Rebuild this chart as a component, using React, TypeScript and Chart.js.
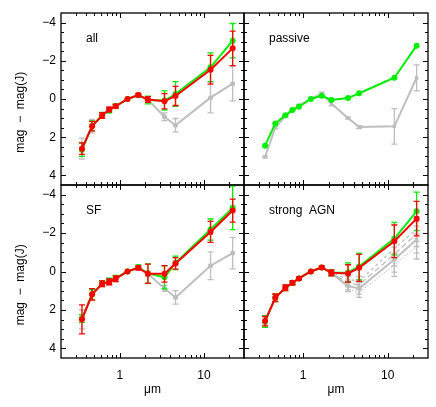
import React, { useEffect, useRef } from 'react';
import { Chart, registerables } from 'chart.js';

Chart.register(...registerables);

// ---------- data ----------
const wavelengths = [0.355, 0.469, 0.617, 0.748, 0.893, 1.235, 1.662, 2.159, 3.4, 4.6, 12, 22];
const xTickValues = [1, 10];
const yTickValues = [-4, -2, 0, 2, 4];
const panelLabels = ['all', 'passive', 'SF', 'strong  AGN'];

// "all"
const allRed = [2.6, 1.42, 0.86, 0.55, 0.38, 0, -0.21, 0.03, 0.12, -0.16, -1.53, -2.65];
const allRedErr = [0.3, 0.25, 0.15, 0.12, 0.1, 0, 0.08, 0.15, 0.4, 0.5, 0.75, 0.9];
const allGreen = [2.65, 1.4, 0.85, 0.6, 0.37, 0, -0.2, 0.05, 0.08, -0.26, -1.66, -3.05];
const allGreenErr = [0.35, 0.25, 0.15, 0.12, 0.1, 0, 0.08, 0.2, 0.5, 0.65, 0.75, 0.9];
const allGray = [2.6, 1.42, 0.86, 0.55, 0.38, 0, -0.21, 0.03, 0.93, 1.37, -0.07, -0.8];
const allGrayErr = [0.55, 0.35, 0.15, 0.12, 0.1, 0, 0.08, 0.15, 0.2, 0.35, 0.8, 0.9];

// "passive"
const pasGreen = [2.44, 1.28, 0.85, 0.57, 0.41, 0, -0.17, 0.05, -0.05, -0.3, -1.11, -2.79];
const pasGray = [3.03, 1.5, 0.9, 0.58, 0.33, 0, -0.28, 0.24, 1.0, 1.47, 1.43, -1.11];
const pasGrayErr = [0.05, 0.05, 0.05, 0.05, 0.05, 0, 0.08, 0.12, 0.05, 0.08, 0.93, 0.68];

// "SF"
const sfRed = [2.49, 1.19, 0.64, 0.54, 0.38, 0, -0.19, 0.12, 0.12, -0.42, -2.06, -3.17];
const sfRedErr = [0.75, 0.3, 0.15, 0.15, 0.15, 0, 0.1, 0.5, 0.43, 0.3, 0.55, 0.6];
const sfGreen = [2.45, 1.2, 0.62, 0.5, 0.35, 0, -0.22, 0.1, 0.3, -0.45, -2.18, -3.31];
const sfGreenErr = [0.2, 0.25, 0.15, 0.15, 0.15, 0, 0.12, 0.5, 0.6, 0.35, 0.55, 1.13];
const sfGray = [2.49, 1.19, 0.64, 0.54, 0.38, 0, -0.19, 0.12, 0.88, 1.35, -0.3, -0.96];
const sfGrayErr = [0.5, 0.3, 0.15, 0.15, 0.15, 0, 0.1, 0.15, 0.15, 0.35, 0.72, 0.82];

// "strong AGN"
const agnRed = [2.58, 1.37, 0.85, 0.59, 0.36, 0, -0.21, 0.07, 0.1, -0.19, -1.57, -2.75];
const agnRedErr = [0.25, 0.2, 0.15, 0.1, 0.07, 0, 0.07, 0.15, 0.45, 0.7, 0.85, 0.9];
const agnGreen = [2.6, 1.37, 0.85, 0.59, 0.36, 0, -0.21, 0.07, 0.05, -0.26, -1.71, -3.13];
const agnGreenErr = [0.3, 0.2, 0.15, 0.1, 0.07, 0, 0.07, 0.15, 0.5, 0.7, 0.85, 1.0];
const agnGray = [2.58, 1.37, 0.85, 0.59, 0.36, 0, -0.21, 0.07, 0.76, 0.88, -0.62, -1.66];
const agnGrayErr = [0.2, 0.15, 0.1, 0.1, 0.07, 0, 0.07, 0.12, 0.2, 0.3, 0.65, 0.7];
const agnGrayDash = [2.58, 1.37, 0.85, 0.59, 0.36, 0, -0.21, 0.07, 0.4, 0.5, -1.2, -2.2];
const agnGrayDashErr = [0, 0, 0, 0, 0, 0, 0, 0.1, 0.15, 0.25, 0.6, 0.65];
const agnGrayLongDash = [2.58, 1.37, 0.85, 0.59, 0.36, 0, -0.21, 0.07, 0.6, 0.7, -0.9, -1.95];
const agnGrayLongDashErr = [0, 0, 0, 0, 0, 0, 0, 0.1, 0.15, 0.25, 0.6, 0.65];
const agnGrayDot = [2.58, 1.37, 0.85, 0.59, 0.36, 0, -0.21, 0.07, 0.9, 1.1, -0.35, -1.3];
const agnGrayDotErr = [0, 0, 0, 0, 0, 0, 0, 0.1, 0.15, 0.25, 0.6, 0.65];

// ---------- styles ----------
const RED = '#ff0000';
const GREEN = '#00ee00';
const GRAY = '#bebebe';
const FONT = "'Liberation Sans', Arial, Helvetica, sans-serif";

type SeriesSpec = {
  values: number[];
  errors?: number[];
  color: string;
  dash?: number[];
  width?: number;
  radius?: number;
  marker?: string;
};

function makeDataset(s: SeriesSpec): any {
  return {
    data: wavelengths.map((x, i) => ({ x, y: s.values[i] })),
    errors: s.errors,
    borderColor: s.color,
    backgroundColor: s.color,
    borderWidth: s.width ?? 2,
    borderDash: s.dash ?? [],
    pointRadius: s.radius ?? 3,
    pointStyle: s.marker ?? 'circle',
    pointBorderWidth: 0,
    pointHoverRadius: 0,
    showLine: true,
    tension: 0,
  };
}

const errorBarPlugin = {
  id: 'errorBars',
  afterDatasetDraw(chart: any, args: any) {
    const ds = chart.data.datasets[args.index];
    if (!ds.errors) return;
    const { ctx, chartArea: a } = chart;
    const xs = chart.scales.x;
    const ys = chart.scales.y;
    ctx.save();
    ctx.beginPath();
    ctx.rect(a.left, a.top, a.right - a.left, a.bottom - a.top);
    ctx.clip();
    ctx.strokeStyle = ds.borderColor;
    ctx.lineWidth = 1.3;
    ctx.setLineDash([]);
    ds.data.forEach((p: any, i: number) => {
      const e = ds.errors[i];
      if (!e) return;
      const px = xs.getPixelForValue(p.x);
      const y1 = ys.getPixelForValue(p.y - e);
      const y2 = ys.getPixelForValue(p.y + e);
      ctx.beginPath();
      ctx.moveTo(px, y1);
      ctx.lineTo(px, y2);
      ctx.moveTo(px - 3, y1);
      ctx.lineTo(px + 3, y1);
      ctx.moveTo(px - 3, y2);
      ctx.lineTo(px + 3, y2);
      ctx.stroke();
    });
    ctx.restore();
  },
};

function makeFramePlugin(label: string) {
  return {
    id: 'frame',
    afterDraw(chart: any) {
      const { ctx, chartArea: a } = chart;
      const xs = chart.scales.x;
      const ys = chart.scales.y;
      ctx.save();
      ctx.strokeStyle = '#000';
      ctx.lineWidth = 1.3;
      ctx.setLineDash([]);
      ctx.strokeRect(a.left, a.top, a.right - a.left, a.bottom - a.top);
      ctx.lineWidth = 1;
      const line = (x1: number, y1: number, x2: number, y2: number) => {
        ctx.beginPath();
        ctx.moveTo(x1, y1);
        ctx.lineTo(x2, y2);
        ctx.stroke();
      };
      const tickX = (v: number, len: number) => {
        const px = Math.round(xs.getPixelForValue(v)) + 0.5;
        line(px, a.bottom, px, a.bottom - len);
        line(px, a.top, px, a.top + len);
      };
      const tickY = (v: number, len: number) => {
        const py = Math.round(ys.getPixelForValue(v)) + 0.5;
        line(a.left, py, a.left + len, py);
        line(a.right, py, a.right - len, py);
      };
      for (const d of [0.1, 1, 10]) {
        for (let k = 1; k <= 9; k++) {
          const v = k * d;
          if (v <= xs.min || v >= xs.max) continue;
          tickX(v, xTickValues.includes(v) ? 5 : 3);
        }
      }
      for (let v = -4.5; v <= 4.5; v += 0.5) {
        if (v <= ys.min || v >= ys.max) continue;
        tickY(v, yTickValues.includes(v) ? 5 : 3);
      }
      ctx.fillStyle = '#000';
      ctx.font = `12px ${FONT}`;
      ctx.textAlign = 'left';
      ctx.textBaseline = 'alphabetic';
      ctx.fillText(label, a.left + 25, a.top + 29);
      ctx.restore();
    },
  };
}

type PanelProps = {
  left: number;
  top: number;
  width: number;
  height: number;
  padding: { left: number; right: number; top: number; bottom: number };
  showX: boolean;
  showY: boolean;
  label: string;
  series: SeriesSpec[];
};

function Panel(props: PanelProps) {
  const ref = useRef<HTMLCanvasElement>(null);
  useEffect(() => {
    const font = { family: FONT, size: 12 };
    const chart = new Chart(ref.current as HTMLCanvasElement, {
      type: 'scatter',
      data: { datasets: props.series.map(makeDataset) },
      options: {
        animation: false,
        responsive: false,
        devicePixelRatio: 1,
        layout: { padding: props.padding },
        plugins: { legend: { display: false }, tooltip: { enabled: false } },
        events: [],
        scales: {
          x: {
            type: 'logarithmic',
            min: 0.2,
            max: 30,
            display: props.showX,
            position: 'bottom',
            grid: { display: false, drawTicks: false },
            border: { display: false },
            afterBuildTicks: (s: any) => {
              s.ticks = xTickValues.map((v) => ({ value: v }));
            },
            afterFit: (s: any) => {
              s.height = props.showX ? 49 : 0;
              s.paddingLeft = 0;
              s.paddingRight = 0;
            },
            ticks: {
              padding: 10,
              color: '#000',
              font,
              autoSkip: false,
              maxRotation: 0,
              callback: (v: any) => String(v),
            },
            title: {
              display: true,
              text: '\u03bcm',
              color: '#000',
              font,
              padding: { top: 0, bottom: 10 },
            },
          } as any,
          y: {
            type: 'linear',
            min: -4.5,
            max: 4.5,
            reverse: true,
            display: props.showY,
            grid: { display: false, drawTicks: false },
            border: { display: false },
            afterBuildTicks: (s: any) => {
              s.ticks = yTickValues.map((v) => ({ value: v }));
            },
            afterFit: (s: any) => {
              s.width = props.showY ? 61 : 0;
              s.paddingTop = 0;
              s.paddingBottom = 0;
            },
            ticks: {
              padding: 5,
              color: '#000',
              font,
              callback: (v: any) => (v < 0 ? '\u2212' + Math.abs(v) : String(v)),
            },
            title: {
              display: true,
              text: 'mag  \u2212  mag(J)        ',
              color: '#000',
              font,
              padding: { top: 13, bottom: 0 },
            },
          } as any,
        },
      } as any,
      plugins: [errorBarPlugin, makeFramePlugin(props.label)],
    });
    return () => chart.destroy();
  }, []);
  return (
    <canvas
      ref={ref}
      width={props.width}
      height={props.height}
      style={{ position: 'absolute', left: props.left, top: props.top, width: props.width, height: props.height }}
    />
  );
}

export default function App() {
  const topPad = { left: 0, right: 6, top: 13, bottom: 5 };
  const topPadR = { left: 6, right: 8, top: 13, bottom: 5 };
  const botPad = { left: 0, right: 6, top: 5, bottom: 0 };
  const botPadR = { left: 6, right: 8, top: 5, bottom: 0 };

  const allSeries: SeriesSpec[] = [
    { values: allRed, errors: allRedErr, color: RED },
    { values: allGreen, errors: allGreenErr, color: GREEN },
    { values: allGray, errors: allGrayErr, color: GRAY, radius: 2.5 },
  ];
  const pasSeries: SeriesSpec[] = [
    { values: pasGreen, color: GREEN },
    { values: pasGray, errors: pasGrayErr, color: GRAY, radius: 2.5, marker: 'rect' },
  ];
  const sfSeries: SeriesSpec[] = [
    { values: sfRed, errors: sfRedErr, color: RED },
    { values: sfGreen, errors: sfGreenErr, color: GREEN },
    { values: sfGray, errors: sfGrayErr, color: GRAY, radius: 2.5 },
  ];
  const agnSeries: SeriesSpec[] = [
    { values: agnRed, errors: agnRedErr, color: RED },
    { values: agnGreen, errors: agnGreenErr, color: GREEN },
    { values: agnGray, errors: agnGrayErr, color: GRAY, radius: 2.5, marker: 'rect' },
    { values: agnGrayDash, errors: agnGrayDashErr, color: GRAY, width: 1.3, dash: [3, 3], radius: 0 },
    { values: agnGrayLongDash, errors: agnGrayLongDashErr, color: GRAY, width: 1.3, dash: [6, 3], radius: 0 },
    { values: agnGrayDot, errors: agnGrayDotErr, color: GRAY, width: 1.3, dash: [1, 2], radius: 0 },
  ];

  return (
    <div style={{ position: 'absolute', left: 0, top: 0, width: 436, height: 407, background: '#fff' }}>
      <Panel left={0} top={0} width={250} height={190} padding={topPad} showX={false} showY={true} label={panelLabels[0]} series={allSeries} />
      <Panel left={238} top={0} width={198} height={190} padding={topPadR} showX={false} showY={false} label={panelLabels[1]} series={pasSeries} />
      <Panel left={0} top={180} width={250} height={227} padding={botPad} showX={true} showY={true} label={panelLabels[2]} series={sfSeries} />
      <Panel left={238} top={180} width={198} height={227} padding={botPadR} showX={true} showY={false} label={panelLabels[3]} series={agnSeries} />
    </div>
  );
}
